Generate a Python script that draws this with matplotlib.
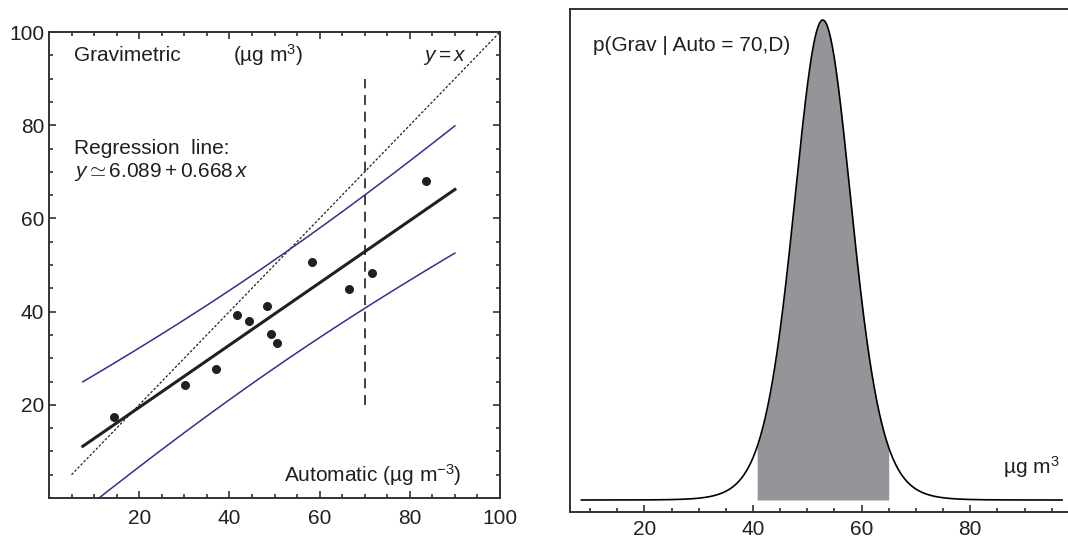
import math
import numpy as np
import matplotlib
matplotlib.use("Agg")
import matplotlib.pyplot as plt
from matplotlib.ticker import MultipleLocator

plt.rcParams["font.family"] = ["Liberation Sans", "DejaVu Sans"]
plt.rcParams["mathtext.fontset"] = "custom"
plt.rcParams["mathtext.rm"] = "Liberation Sans"
plt.rcParams["mathtext.it"] = "Liberation Sans:italic"

# scatter data (automatic vs gravimetric, ug/m3)
auto = [14.4, 30.2, 37.0, 41.7, 44.4, 48.4, 49.3, 50.5, 58.4, 66.6, 71.6, 83.6]
grav = [17.4, 24.2, 27.7, 39.3, 38.0, 41.1, 35.1, 33.3, 50.7, 44.8, 48.2, 68.0]

intercept = 6.089
slope = 0.668
t_975 = 2.228          # Student t quantile, 10 dof
auto_query = 70
line_range = (7.5, 90)
ink = "#231f20"
blue = "#2e3192"

x = np.array(auto)
y = np.array(grav)
n = len(x)
resid = y - (intercept + slope * x)
s = np.sqrt(np.sum(resid ** 2) / (n - 2))
sxx = np.sum((x - x.mean()) ** 2)


def pred_scale(xv):
    return s * np.sqrt(1 + 1 / n + (xv - x.mean()) ** 2 / sxx)


fig = plt.figure(figsize=(10.68, 5.38), dpi=100)
ax1 = fig.add_axes([49 / 1068, 1 - 498 / 538, 451 / 1068, 466 / 538])
ax2 = fig.add_axes([570 / 1068, 1 - 512 / 538, 1 - 570 / 1068, 503 / 538])

# ---- left panel: regression with prediction band
xs = np.linspace(line_range[0], line_range[1], 200)
fit = intercept + slope * xs
band = t_975 * pred_scale(xs)
ax1.plot([5, 100], [5, 100], ls=(0, (2, 1.5)), color=ink, lw=0.9)
ax1.plot(xs, fit + band, color=blue, lw=1.1)
ax1.plot(xs, fit - band, color=blue, lw=1.1)
ax1.plot(xs, fit, color=ink, lw=2.2)
ax1.plot([auto_query, auto_query], [20, 90], ls=(0, (6, 4)), color=ink, lw=1.2)
ax1.scatter(x, y, s=30, color=ink, zorder=5)

ax1.set_xlim(0, 100)
ax1.set_ylim(0, 100)
ax1.xaxis.set_minor_locator(MultipleLocator(5))
ax1.yaxis.set_minor_locator(MultipleLocator(5))
ax1.set_xticks([20, 40, 60, 80, 100])
ax1.set_yticks([20, 40, 60, 80, 100])
ax1.tick_params(which="both", direction="in", top=True, right=True,
                labelsize=15, colors=ink, width=1.1)
ax1.tick_params(which="major", length=5)
ax1.tick_params(which="minor", length=3)
ax1.tick_params(axis="x", pad=8)
for sp in ax1.spines.values():
    sp.set_linewidth(1.4)
    sp.set_color("#333333")

fs = 15
ax1.text(5.6, 95, "Gravimetric", fontsize=fs, color=ink, va="center")
ax1.text(40.7, 95, "(µg m$^3$)", fontsize=fs, color=ink, va="center")
ax1.text(83, 94.6, r"$y = x$", fontsize=fs, color=ink, va="center")
ax1.text(5.6, 75.1, "Regression  line:", fontsize=fs, color=ink, va="center")
ax1.text(5.6, 70, r"$y \simeq 6.089 + 0.668\,x$", fontsize=fs, color=ink, va="center")
ax1.text(52, 5, "Automatic (µg m$^{-3}$)", fontsize=fs, color=ink, va="center")

# ---- right panel: predictive density for Grav given Auto = 70
mu = intercept + slope * auto_query
sc = pred_scale(auto_query)
dof = n - 2
gv = np.linspace(8.4, 96.9, 600)
norm = math.gamma((dof + 1) / 2) / (math.gamma(dof / 2) * math.sqrt(dof * math.pi) * sc)
dens = norm * (1 + ((gv - mu) / sc) ** 2 / dof) ** (-(dof + 1) / 2)
lo, hi = mu - t_975 * sc, mu + t_975 * sc
inside = (gv >= lo) & (gv <= hi)
ax2.fill_between(gv, 0, dens, where=inside, color="#939598", lw=0)
ax2.plot(gv, dens, color="black", lw=1.2)

peak = dens.max()
ax2.set_xlim(6.3, 98.0)
ax2.set_ylim(-12 / 480 * peak, 491 / 480 * peak)
ax2.xaxis.set_major_locator(MultipleLocator(20))
ax2.xaxis.set_minor_locator(MultipleLocator(5))
ax2.set_yticks([])
ax2.tick_params(which="both", direction="in", labelsize=15, colors=ink, width=1.1)
ax2.tick_params(which="major", length=5)
ax2.tick_params(which="minor", length=3)
ax2.tick_params(axis="x", pad=6)
ax2.spines["right"].set_visible(False)
for sp in ax2.spines.values():
    sp.set_linewidth(1.4)
    sp.set_color("#333333")

ax2.text(0.046, 0.928, "p(Grav | Auto = 70,D)", transform=ax2.transAxes,
         fontsize=fs, color=ink, va="center")
ax2.text(0.869, 0.089, "µg m$^3$", transform=ax2.transAxes,
         fontsize=fs, color=ink, va="center")

fig.savefig("out.png", dpi=100)
